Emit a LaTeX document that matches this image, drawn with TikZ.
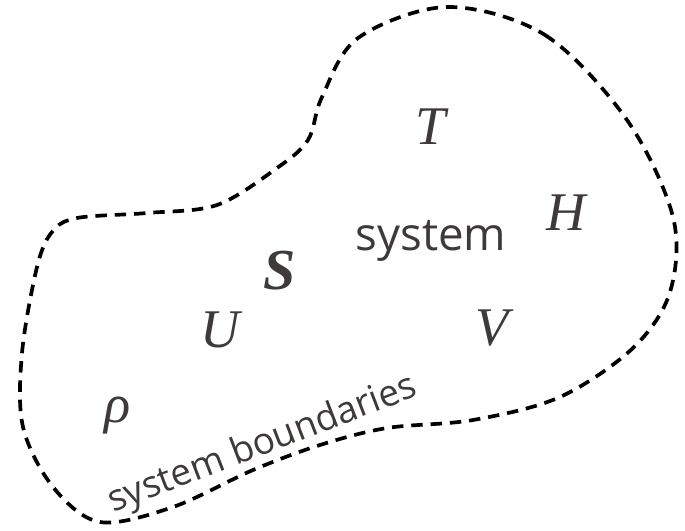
\documentclass[tikz,border=0pt]{standalone}
\usepackage{fontspec}
\setmainfont{Open Sans}
\newfontfamily\varfont{Liberation Serif}
\definecolor{ink}{HTML}{3E3A39}
\tikzset{
  var/.style={text=ink, inner sep=0pt, font=\varfont\itshape\fontsize{31}{31}\selectfont},
  word/.style={text=ink, inner sep=0pt, font=\fontsize{26}{26}\selectfont},
  boundary/.style={line width=2.1pt, dash pattern=on 6.5pt off 4.5pt}
}
\begin{document}
\begin{tikzpicture}[x=0.2mm,y=-0.2mm]
\useasboundingbox (0,0) rectangle (685,530);
% the boundary
\draw[boundary] plot[smooth cycle, tension=0.55] coordinates {
  (447,7) (545,35) (627,120) (673,217) (670,292) (633,348) (560,397)
  (473,420) (387,428) (320,445) (253,470) (173,507) (100,522) (53,487)
  (23,427) (22,353) (37,267) (52,232) (77,218) (147,213) (217,205)
  (277,168) (308,140) (322,97) (358,38)};
% state quantities
\node[word, anchor=base] (system) at (431,250) {system};
\node[var] (T) at (431,127) {T};
\node[var] (H) at (566,213) {H};
\node[var, font=\varfont\bfseries\itshape\fontsize{33}{33}\selectfont] (S) at (280,271) {S};
\node[var] (U) at (220,330) {U};
\node[var] (V) at (492,328) {V};
\node[var] (rho) at (118,416) {ρ};
\node[word, anchor=base west, rotate=21, font=\fontsize{21}{21}\selectfont] (bnd) at (113,513) {system boundaries};
\end{tikzpicture}
\end{document}
